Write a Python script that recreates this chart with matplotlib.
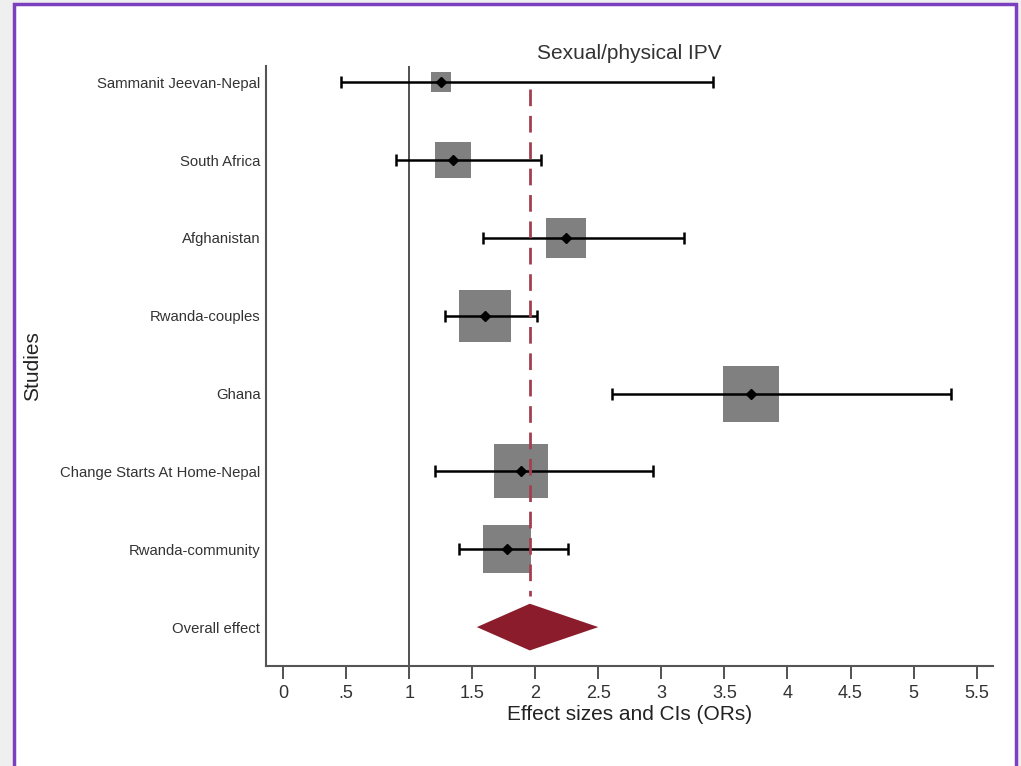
# forest plot: sexual/physical IPV, effect sizes (ORs) with CIs per study
import matplotlib.pyplot as plt
from matplotlib.patches import Rectangle, Polygon
import numpy as np

plt.rcParams['font.family'] = ['Liberation Sans', 'DejaVu Sans']

studies = [
    "Sammanit Jeevan-Nepal", "South Africa", "Afghanistan", "Rwanda-couples",
    "Ghana", "Change Starts At Home-Nepal", "Rwanda-community",
]
odds_ratio = [1.25, 1.35, 2.245, 1.605, 3.713, 1.886, 1.78]
ci_low = [0.462, 0.898, 1.585, 1.281, 2.61, 1.209, 1.397]
ci_high = [3.407, 2.044, 3.18, 2.013, 5.295, 2.934, 2.261]
weights = [3.1, 8.7, 11.3, 19.2, 21.4, 20.7, 15.6]  # percent

overall_label = "Overall effect"
overall_es = 1.957
overall_low = 1.537
overall_high = 2.50

xticks = [0, 0.5, 1, 1.5, 2, 2.5, 3, 3.5, 4, 4.5, 5, 5.5]
xtick_labels = ["0", ".5", "1", "1.5", "2", "2.5", "3", "3.5", "4", "4.5", "5", "5.5"]

fig = plt.figure(figsize=(10.21, 7.66), dpi=100)
fig.patch.set_facecolor("#efefef")
# white card with purple frame
fig.patches.append(Rectangle((14 / 1021, -0.05), 1002 / 1021, 1 - 4 / 766 + 0.05,
                             transform=fig.transFigure, facecolor="white",
                             edgecolor="#7b3fc0", linewidth=2.5, zorder=-5))

ax = fig.add_axes([266 / 1021, 100 / 766, 727 / 1021, 600 / 766])
ax.set_facecolor("none")

ypos = np.arange(len(studies))

# reference line at OR = 1
ax.axvline(1, color="#222222", linewidth=1.1, zorder=1)

# overall effect dashed line
ax.plot([overall_es, overall_es], [0.09, 6.6], color="#a3404f", linewidth=2,
        linestyle=(0, (6, 3.5)), zorder=4)

# weight squares (side in pixels ~ sqrt(weight))
px_to_pt = 72 / 100
for y, x, w in zip(ypos, odds_ratio, weights):
    side = 11.9 * np.sqrt(w) * px_to_pt
    ax.plot(x, y, marker="s", markersize=side, color="#808080",
            markeredgewidth=0, zorder=2)

# CIs and point estimates
ax.errorbar(odds_ratio, ypos,
            xerr=[np.array(odds_ratio) - np.array(ci_low), np.array(ci_high) - np.array(odds_ratio)],
            fmt="none", ecolor="black", elinewidth=1.8, capsize=4.5, capthick=1.8, zorder=3)
ax.plot(odds_ratio, ypos, "D", color="black", markersize=5.5, zorder=5)

# overall diamond
y_ov = len(studies)
ax.add_patch(Polygon([[overall_low, y_ov], [overall_es, y_ov - 0.3],
                      [overall_high, y_ov], [overall_es, y_ov + 0.3]],
                     closed=True, facecolor="#8b1c2b", edgecolor="none", zorder=3))

ax.set_ylim(len(studies) + 0.5, -0.21)
ax.set_xlim(-0.135, 5.63)
ax.set_yticks(list(ypos) + [y_ov])
ax.set_yticklabels(studies + [overall_label], fontsize=10.7, color="#333333")
ax.set_xticks(xticks)
ax.set_xticklabels(xtick_labels, fontsize=13, color="#333333")
ax.tick_params(axis="y", length=0, pad=4)
ax.tick_params(axis="x", length=9, width=1.3, color="#444444", pad=5)

for s in ["top", "right"]:
    ax.spines[s].set_visible(False)
ax.spines["left"].set_color("#555555")
ax.spines["bottom"].set_color("#555555")
ax.spines["left"].set_linewidth(1.5)
ax.spines["bottom"].set_linewidth(1.5)

ax.set_title("Sexual/physical IPV", fontsize=15, color="#333333", pad=5)
ax.set_xlabel("Effect sizes and CIs (ORs)", fontsize=15, color="#222222", labelpad=2)
fig.text(33 / 1021, 1 - 366 / 766, "Studies", rotation=90, fontsize=15,
         color="#222222", ha="center", va="center")

fig.savefig("out.png", dpi=100)
